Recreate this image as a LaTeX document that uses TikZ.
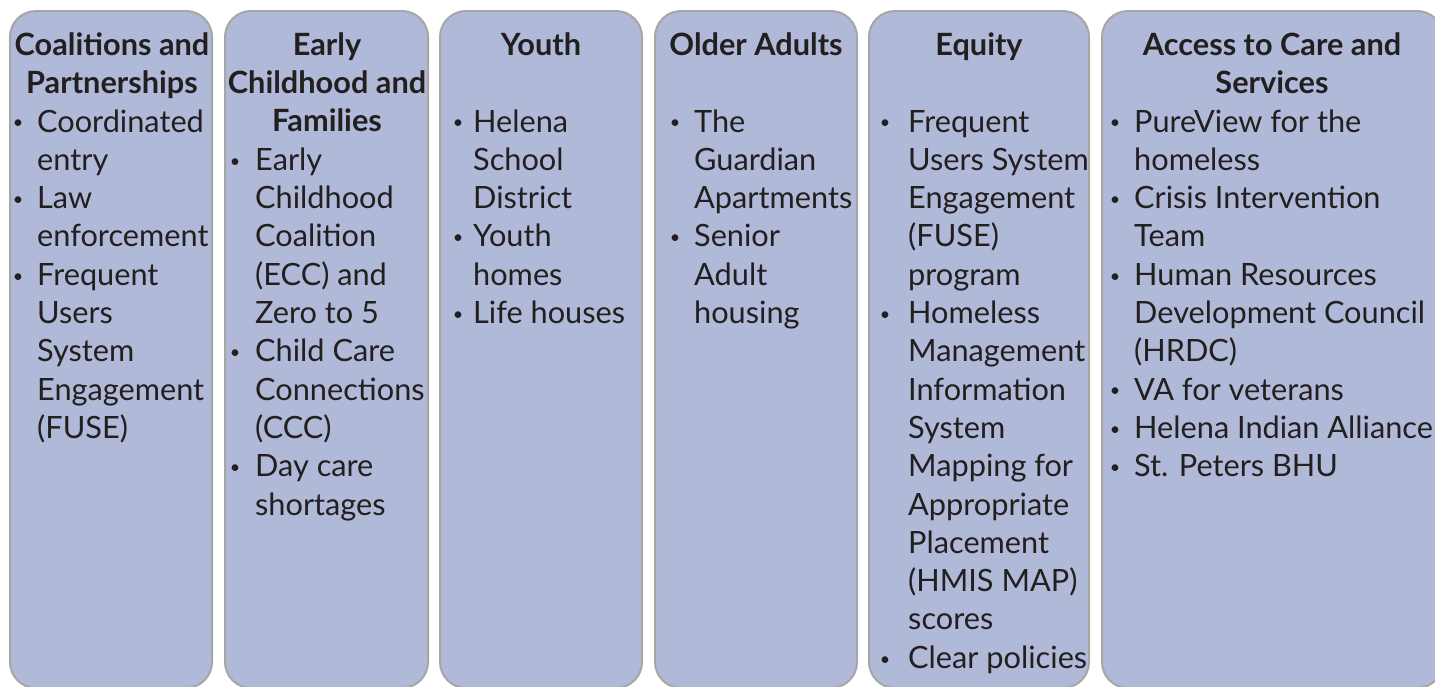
\documentclass[tikz,border=0pt]{standalone}
\usepackage{fontspec}
\setmainfont{Lato}
\definecolor{boxfill}{RGB}{176,185,215}
\definecolor{boxline}{RGB}{166,166,166}
\definecolor{ink}{RGB}{35,31,32}
\newcommand\colitems[4]{%
  \foreach \b/\t [count=\i from 0] in {#4} {
    \node[txt] (#1-\i) at (#3, 132+\i*38.3) {\t};
    \ifnum\b=1 \node[bul] (#1-b\i) at (#2, 132+\i*38.3) {\textbullet};\fi
  }}
\begin{document}
\begin{tikzpicture}[x=1pt,y=-1pt,
  colbox/.style={draw=boxline, line width=2pt, fill=boxfill, rounded corners=26pt},
  txt/.style={anchor=base west, inner sep=0pt, text=ink, font=\fontsize{30.7}{38.3}\selectfont},
  bul/.style={anchor=base, inner sep=0pt, text=ink, yshift=3.2pt, font=\fontsize{18}{20}\selectfont},
  head/.style={anchor=base, inner sep=0pt, text=ink, font=\fontsize{30.7}{38.3}\selectfont\bfseries}]
\useasboundingbox (0,0) rectangle (1435,686);
\clip (0,0) rectangle (1435,686);
% boxes
\draw[colbox] (10,11) rectangle (212,688);
\draw[colbox] (225,11) rectangle (428,688);
\draw[colbox] (440,11) rectangle (642,688);
\draw[colbox] (655,11) rectangle (857,688);
\draw[colbox] (869,11) rectangle (1089,688);
\draw[colbox] (1102,11) rectangle (1443,688);
% headings
\node[head] (h1a) at (112,55) {Coalitions and};
\node[head] (h1b) at (112,93.3) {Partnerships};
\node[head] (h2a) at (327,55) {Early};
\node[head] (h2b) at (327,93.3) {Childhood and};
\node[head] (h2c) at (327,131.6) {Families};
\node[head] (h3) at (541,55) {Youth};
\node[head] (h4) at (756,55) {Older Adults};
\node[head] (h5) at (979,55) {Equity};
\node[head] (h6a) at (1272,55) {Access to Care and};
\node[head] (h6b) at (1272,93.3) {Services};
% items
\colitems{c1}{18}{37}{1/Coordinated,0/entry,1/Law,0/enforcement,1/Frequent,0/Users,0/System,0/Engagement,0/(FUSE)}
\colitems{c2}{235}{255}{0/,1/Early,0/Childhood,0/Coalition,0/(ECC) and,0/Zero to 5,1/Child Care,0/Connections,0/(CCC),1/Day care,0/shortages}
\colitems{c3}{458}{473}{1/Helena,0/School,0/District,1/Youth,0/homes,1/Life houses}
\colitems{c4}{675}{694}{1/The,0/Guardian,0/Apartments,1/Senior,0/Adult,0/housing}
\colitems{c5}{885}{908}{1/Frequent,0/Users System,0/Engagement,0/(FUSE),0/program,1/Homeless,0/Management,0/Information,0/System,0/Mapping for,0/Appropriate,0/Placement,0/(HMIS MAP),0/scores,1/Clear policies}
\colitems{c6}{1115}{1134}{1/PureView for the,0/homeless,1/Crisis Intervention,0/Team,1/Human Resources,0/Development Council,0/(HRDC),1/VA for veterans,1/Helena Indian Alliance,1/St. Peters BHU}
\end{tikzpicture}
\end{document}
